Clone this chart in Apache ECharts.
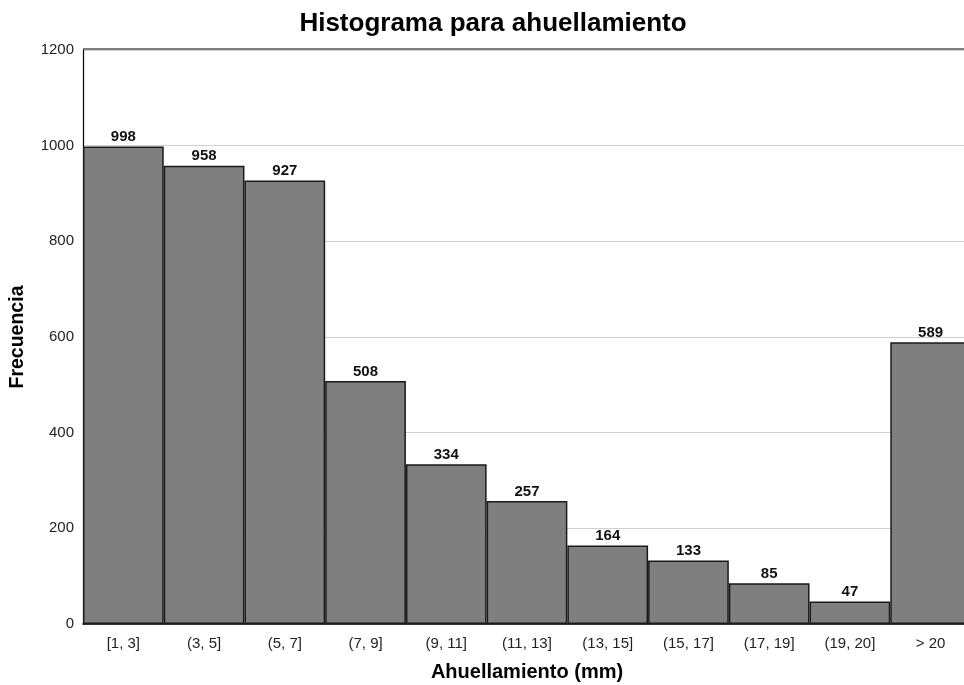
<!DOCTYPE html>
<html>
<head>
<meta charset="utf-8">
<script src="https://cdn.jsdelivr.net/npm/echarts@6/dist/echarts.min.js"></script>
<style>
  html, body { margin: 0; padding: 0; background: #fff; overflow: hidden; }
  #chart { width: 964px; height: 685px; }
</style>
</head>
<body>
<div id="chart"></div>
<script>
// Rut depth bins (mm) and their frequencies
const categories = ['[1, 3]', '(3, 5]', '(5, 7]', '(7, 9]', '(9, 11]', '(11, 13]', '(13, 15]', '(15, 17]', '(17, 19]', '(19, 20]', '> 20'];
const frequencies = [998, 958, 927, 508, 334, 257, 164, 133, 85, 47, 589];
const yTicks = [0, 200, 400, 600, 800, 1000, 1200];

const FONT = '"Liberation Sans", Arial, sans-serif';
const chart = echarts.init(document.getElementById('chart'), null, { renderer: 'canvas' });

chart.setOption({
  animation: false,
  backgroundColor: '#ffffff',
  title: {
    text: 'Histograma para ahuellamiento',
    left: 488,
    textAlign: 'center',
    top: 6,
    textStyle: { fontFamily: FONT, fontSize: 26, fontWeight: 'bold', color: '#000' }
  },
  // the plot runs slightly past the right edge of the canvas
  grid: { left: 83, top: 50, width: 888, height: 574, containLabel: false, outerBoundsMode: 'none' },
  xAxis: {
    type: 'category',
    data: categories,
    name: 'Ahuellamiento (mm)',
    nameLocation: 'middle',
    nameGap: 38,
    nameTextStyle: { fontFamily: FONT, fontSize: 20, fontWeight: 'bold', color: '#000' },
    axisLine: { show: true, lineStyle: { color: '#000', width: 1.5 } },
    axisTick: { show: false },
    axisLabel: { fontFamily: FONT, fontSize: 15, color: '#222', margin: 12 }
  },
  yAxis: {
    type: 'value',
    min: yTicks[0],
    max: yTicks[yTicks.length - 1],
    interval: 200,
    name: 'Frecuencia',
    nameLocation: 'middle',
    nameGap: 55,
    nameTextStyle: { fontFamily: FONT, fontSize: 19.5, fontWeight: 'bold', color: '#000' },
    axisLine: { show: true, lineStyle: { color: '#000', width: 1.2 } },
    axisTick: { show: false },
    axisLabel: { fontFamily: FONT, fontSize: 15, color: '#222', margin: 9, formatter: v => String(v) },
    splitLine: { show: true, lineStyle: { color: '#cfcfcf', width: 1 } }
  },
  series: [
    {
      type: 'bar',
      data: frequencies,
      barCategoryGap: 0,
      itemStyle: { color: '#7f7f7f', borderColor: '#1a1a1a', borderWidth: 1.5 },
      label: {
        show: true,
        position: 'top',
        distance: 2,
        fontFamily: FONT,
        fontSize: 15,
        fontWeight: 'bold',
        color: '#111'
      }
    }
  ],
  graphic: [
    // top frame edge of the plot area
    { type: 'line', shape: { x1: 83, y1: 49, x2: 964, y2: 49 }, style: { stroke: '#000', lineWidth: 1.2 }, z: 10 }
  ]
});
</script>
</body>
</html>
